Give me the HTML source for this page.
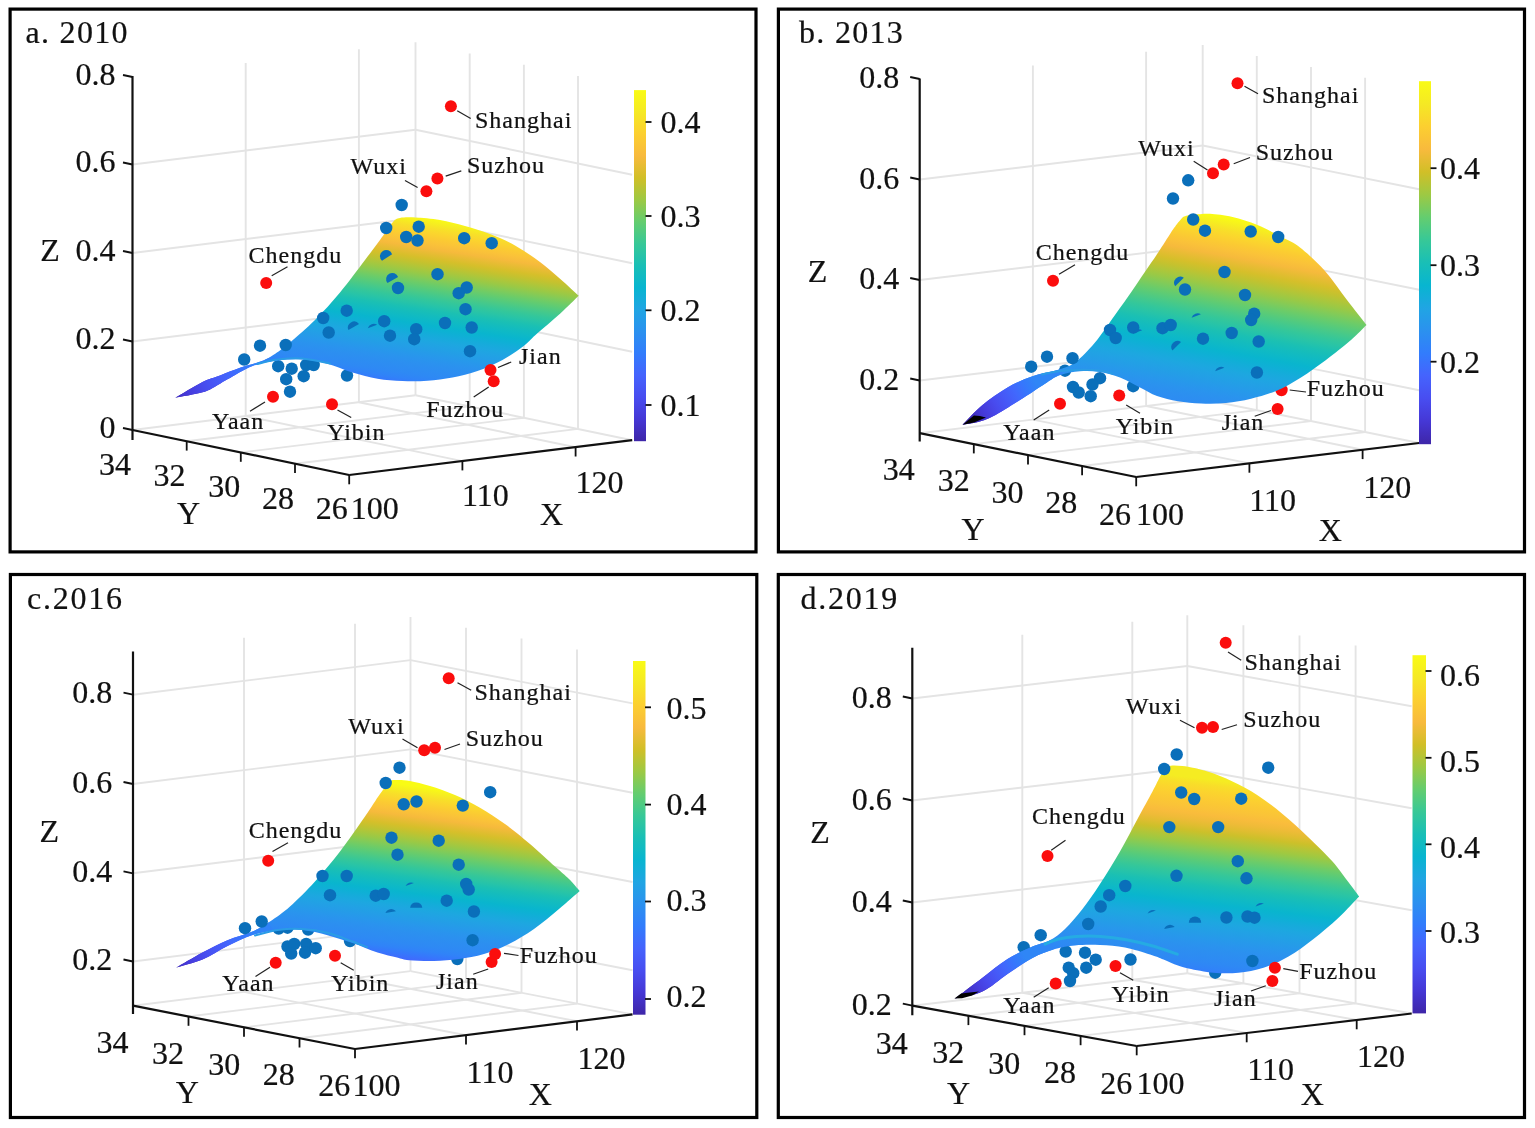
<!DOCTYPE html>
<html lang="en"><head><meta charset="utf-8"><title>Trend surface 2010-2019</title>
<style>
html,body{margin:0;padding:0;background:#fff}
svg{display:block}
text{font-family:"Liberation Serif",serif;fill:#111;stroke:#111;stroke-width:0.22px}
.t{font-size:32px}
.h{font-size:32px;letter-spacing:1.3px}
.c{font-size:24px;letter-spacing:1px}
.g{stroke:#e4e4e4;stroke-width:1.9}
.a{stroke:#111;stroke-width:2.2;stroke-linecap:butt}
.k{stroke:#111;stroke-width:1.8}
.l{stroke:#222;stroke-width:1.2}
.b{fill:#0a6fba}
.r{fill:#fb0d0d}
.f{fill:none;stroke:#000;stroke-width:3.2}
</style></head>
<body>
<svg width="1535" height="1128" viewBox="0 0 1535 1128">
<rect width="1535" height="1128" fill="#fff"/>
<g><line class="g" x1="132.5" y1="430" x2="415.5" y2="395.2"/><line class="g" x1="415.5" y1="395.2" x2="632.2" y2="440.2"/><line class="g" x1="186.7" y1="441.2" x2="469.7" y2="406.4"/><line class="g" x1="240.8" y1="452.5" x2="523.9" y2="417.7"/><line class="g" x1="295" y1="463.8" x2="578" y2="428.9"/><line class="g" x1="462.4" y1="461.1" x2="245.7" y2="416.1"/><line class="g" x1="575.6" y1="447.2" x2="358.9" y2="402.2"/><line class="g" x1="245.7" y1="416.1" x2="245.7" y2="63.1"/><line class="g" x1="358.9" y1="402.2" x2="358.9" y2="49.2"/><line class="g" x1="415.5" y1="395.2" x2="415.5" y2="42.2"/><line class="g" x1="469.7" y1="406.4" x2="469.7" y2="53.4"/><line class="g" x1="523.9" y1="417.7" x2="523.9" y2="64.7"/><line class="g" x1="578" y1="428.9" x2="578" y2="75.9"/><line class="g" x1="132.5" y1="164.5" x2="415.5" y2="129.7"/><line class="g" x1="415.5" y1="129.7" x2="632.2" y2="174.7"/><line class="g" x1="132.5" y1="253" x2="415.5" y2="218.2"/><line class="g" x1="415.5" y1="218.2" x2="632.2" y2="263.2"/><line class="g" x1="132.5" y1="341.5" x2="415.5" y2="306.7"/><line class="g" x1="415.5" y1="306.7" x2="632.2" y2="351.7"/>
<circle class="b" cx="278.2" cy="366.2" r="6.2"/>
<circle class="b" cx="306.2" cy="365" r="6.2"/>
<circle class="b" cx="313.7" cy="365" r="6.2"/>
<circle class="b" cx="347" cy="375.5" r="6.2"/>
<linearGradient id="sg0" gradientUnits="userSpaceOnUse" x1="399.9" y1="418.4" x2="430" y2="218"><stop offset="0.000" stop-color="#3e26a8"/><stop offset="0.025" stop-color="#422fc1"/><stop offset="0.050" stop-color="#4539d8"/><stop offset="0.075" stop-color="#4745e6"/><stop offset="0.100" stop-color="#4751f2"/><stop offset="0.125" stop-color="#465df9"/><stop offset="0.150" stop-color="#406afd"/><stop offset="0.175" stop-color="#3677fc"/><stop offset="0.200" stop-color="#3083f8"/><stop offset="0.225" stop-color="#2e89f4"/><stop offset="0.250" stop-color="#2d8cf2"/><stop offset="0.275" stop-color="#2c8ff0"/><stop offset="0.300" stop-color="#2a93ee"/><stop offset="0.325" stop-color="#2798eb"/><stop offset="0.350" stop-color="#249de7"/><stop offset="0.375" stop-color="#21a2e4"/><stop offset="0.400" stop-color="#1da7e0"/><stop offset="0.425" stop-color="#16abdb"/><stop offset="0.450" stop-color="#0eb0d5"/><stop offset="0.475" stop-color="#09b5ce"/><stop offset="0.500" stop-color="#0eb9c6"/><stop offset="0.525" stop-color="#14bcbd"/><stop offset="0.550" stop-color="#1bc0b3"/><stop offset="0.575" stop-color="#28c4a7"/><stop offset="0.600" stop-color="#34c79a"/><stop offset="0.625" stop-color="#45c98b"/><stop offset="0.650" stop-color="#57cb7a"/><stop offset="0.675" stop-color="#6bcc69"/><stop offset="0.700" stop-color="#82cb58"/><stop offset="0.725" stop-color="#99c946"/><stop offset="0.750" stop-color="#aec63a"/><stop offset="0.775" stop-color="#c3c22f"/><stop offset="0.800" stop-color="#d6bf2a"/><stop offset="0.825" stop-color="#e6bc33"/><stop offset="0.850" stop-color="#f6ba3c"/><stop offset="0.875" stop-color="#fac239"/><stop offset="0.900" stop-color="#fbca33"/><stop offset="0.925" stop-color="#fbd42e"/><stop offset="0.950" stop-color="#f8df29"/><stop offset="0.975" stop-color="#f6ee20"/><stop offset="1.000" stop-color="#f9fb15"/></linearGradient>
<path d="M175.3 397.8C179.8 395.2 195.1 385.7 202.5 382C209.9 378.3 213.8 377.9 220 375.5C226.2 373.1 233 370.2 240 367.8C247 365.4 256.1 363.4 262 361C267.9 358.6 270.6 356.8 275.3 353.7C280 350.6 283.4 348.1 290 342.5C296.6 336.9 306.7 328.3 315 320C323.3 311.7 331.7 302.5 340 292.5C348.3 282.5 358.3 268.8 365 260C371.7 251.2 375.4 246.2 380 240C384.6 233.8 389.2 226.2 392.5 222.5C395.8 218.8 396.2 218.8 400 218C403.8 217.2 408.3 217.2 415 217.5C421.7 217.8 431.7 218.6 440 220C448.3 221.4 456.7 223.7 465 226C473.3 228.3 481.7 230.8 490 234C498.3 237.2 506.7 240.8 515 245.5C523.3 250.2 532.5 256.4 540 262C547.5 267.6 553.8 273.4 560.3 279C566.8 284.6 575.6 293 578.7 295.8C575.6 298.8 567.5 307 560.3 313.5C553.1 320 541.6 329.6 535.5 335C529.4 340.4 529.2 341.8 523.7 346C518.2 350.2 510.2 355.8 502.5 360C494.8 364.2 485.8 368.1 477.5 371C469.2 373.9 460.8 375.9 452.5 377.5C444.2 379.1 435.8 380.1 427.5 380.7C419.2 381.3 410.8 381.3 402.5 381C394.2 380.7 385.8 380.1 377.5 378.7C369.2 377.3 360.8 375 352.5 372.5C344.2 370 335.8 365.9 327.5 363.7C319.2 361.5 310.8 360 302.5 359.5C294.2 359 285.8 359.4 277.5 360.5C269.2 361.6 260.8 362.9 252.5 366C244.2 369.1 233.8 375.9 227.5 379.3C221.2 382.8 219.2 384.5 215 386.7C210.8 388.9 209.1 390.4 202.5 392.3C195.9 394.2 179.8 396.9 175.3 397.8Z" fill="url(#sg0)"/>
<linearGradient id="lg0" gradientUnits="userSpaceOnUse" x1="176" y1="398" x2="255" y2="364"><stop offset="0.000" stop-color="#4231c5"/><stop offset="0.143" stop-color="#453ada"/><stop offset="0.286" stop-color="#4746e8"/><stop offset="0.429" stop-color="#4752f3"/><stop offset="0.571" stop-color="#465df9"/><stop offset="0.714" stop-color="#406afd"/><stop offset="0.857" stop-color="#3677fc"/><stop offset="1.000" stop-color="#3083f8"/></linearGradient>
<clipPath id="lc0"><path d="M160 340L262 340L276 372L160 410Z"/></clipPath>
<path d="M175.3 397.8C179.8 395.2 195.1 385.7 202.5 382C209.9 378.3 213.8 377.9 220 375.5C226.2 373.1 233 370.2 240 367.8C247 365.4 256.1 363.4 262 361C267.9 358.6 270.6 356.8 275.3 353.7C280 350.6 283.4 348.1 290 342.5C296.6 336.9 306.7 328.3 315 320C323.3 311.7 331.7 302.5 340 292.5C348.3 282.5 358.3 268.8 365 260C371.7 251.2 375.4 246.2 380 240C384.6 233.8 389.2 226.2 392.5 222.5C395.8 218.8 396.2 218.8 400 218C403.8 217.2 408.3 217.2 415 217.5C421.7 217.8 431.7 218.6 440 220C448.3 221.4 456.7 223.7 465 226C473.3 228.3 481.7 230.8 490 234C498.3 237.2 506.7 240.8 515 245.5C523.3 250.2 532.5 256.4 540 262C547.5 267.6 553.8 273.4 560.3 279C566.8 284.6 575.6 293 578.7 295.8C575.6 298.8 567.5 307 560.3 313.5C553.1 320 541.6 329.6 535.5 335C529.4 340.4 529.2 341.8 523.7 346C518.2 350.2 510.2 355.8 502.5 360C494.8 364.2 485.8 368.1 477.5 371C469.2 373.9 460.8 375.9 452.5 377.5C444.2 379.1 435.8 380.1 427.5 380.7C419.2 381.3 410.8 381.3 402.5 381C394.2 380.7 385.8 380.1 377.5 378.7C369.2 377.3 360.8 375 352.5 372.5C344.2 370 335.8 365.9 327.5 363.7C319.2 361.5 310.8 360 302.5 359.5C294.2 359 285.8 359.4 277.5 360.5C269.2 361.6 260.8 362.9 252.5 366C244.2 369.1 233.8 375.9 227.5 379.3C221.2 382.8 219.2 384.5 215 386.7C210.8 388.9 209.1 390.4 202.5 392.3C195.9 394.2 179.8 396.9 175.3 397.8Z" fill="url(#lg0)" clip-path="url(#lc0)"/>
<path d="M257.5 364C260.8 363.2 270 360.4 277.5 359.5C285 358.6 293.8 357.8 302.5 358.5C311.2 359.2 325.4 362.7 330 363.5" fill="none" stroke="#2a9ce6" stroke-width="2" stroke-linecap="round" opacity="1"/>
<line class="a" x1="132.5" y1="76" x2="132.5" y2="440"/><line class="a" x1="132.5" y1="430" x2="349.2" y2="475"/><line class="a" x1="349.2" y1="475" x2="632.2" y2="440.2"/><line class="k" x1="123" y1="75" x2="132.5" y2="77"/><line class="k" x1="123" y1="162.5" x2="132.5" y2="164.5"/><line class="k" x1="123" y1="251" x2="132.5" y2="253"/><line class="k" x1="123" y1="339.5" x2="132.5" y2="341.5"/><line class="k" x1="123" y1="428" x2="132.5" y2="430"/><line class="k" x1="186.7" y1="441.2" x2="186.7" y2="450.6"/><line class="k" x1="240.8" y1="452.5" x2="240.8" y2="461.8"/><line class="k" x1="295" y1="463.8" x2="295" y2="473.1"/><line class="k" x1="349.2" y1="475" x2="349.2" y2="484.3"/><line class="k" x1="462.4" y1="461.1" x2="462.4" y2="470.4"/><line class="k" x1="575.6" y1="447.2" x2="575.6" y2="456.5"/>
<text class="t" text-anchor="end" x="115.5" y="84.8">0.8</text><text class="t" text-anchor="end" x="115.5" y="172.3">0.6</text><text class="t" text-anchor="end" x="115.5" y="260.8">0.4</text><text class="t" text-anchor="end" x="115.5" y="349.3">0.2</text><text class="t" text-anchor="end" x="115.5" y="437.8">0</text><text class="t" x="99" y="475">34</text><text class="t" x="153.5" y="486.2">32</text><text class="t" x="208.2" y="497">30</text><text class="t" x="262" y="508.7">28</text><text class="t" x="315.7" y="518.7">26</text><text class="t" x="350.8" y="518.7">100</text><text class="t" x="462" y="506.2">110</text><text class="t" x="575.5" y="492.5">120</text><text class="t" x="177" y="523.7">Y</text><text class="t" x="540" y="524.5">X</text><text class="t" x="40.2" y="261">Z</text>
<linearGradient id="cg0" x1="0" y1="1" x2="0" y2="0"><stop offset="0.0000" stop-color="#3e26a8"/><stop offset="0.0625" stop-color="#4537d5"/><stop offset="0.1250" stop-color="#484df0"/><stop offset="0.1875" stop-color="#4563fd"/><stop offset="0.2500" stop-color="#327cfc"/><stop offset="0.3125" stop-color="#2b91ef"/><stop offset="0.3750" stop-color="#20a5e3"/><stop offset="0.4375" stop-color="#08b5d0"/><stop offset="0.5000" stop-color="#19bfb6"/><stop offset="0.5625" stop-color="#37c897"/><stop offset="0.6250" stop-color="#64cd6f"/><stop offset="0.6875" stop-color="#9dc943"/><stop offset="0.7500" stop-color="#d1bf27"/><stop offset="0.8125" stop-color="#f8ba3d"/><stop offset="0.8750" stop-color="#fccf30"/><stop offset="0.9375" stop-color="#f5e924"/><stop offset="1.0000" stop-color="#f9fb15"/></linearGradient>
<rect x="634" y="90.1" width="12" height="351.1" fill="url(#cg0)"/>
<line class="k" x1="645.5" y1="122" x2="651.5" y2="122"/>
<text class="t" x="660.5" y="133">0.4</text>
<line class="k" x1="645.5" y1="216" x2="651.5" y2="216"/>
<text class="t" x="660.5" y="227">0.3</text>
<line class="k" x1="645.5" y1="310.3" x2="651.5" y2="310.3"/>
<text class="t" x="660.5" y="321.3">0.2</text>
<line class="k" x1="645.5" y1="405" x2="651.5" y2="405"/>
<text class="t" x="660.5" y="416">0.1</text>
<circle class="b" cx="401.7" cy="205" r="6.2"/>
<circle class="b" cx="386.2" cy="228" r="6.2"/>
<circle class="b" cx="418.7" cy="226.7" r="6.2"/>
<circle class="b" cx="406.2" cy="237" r="6.2"/>
<circle class="b" cx="417.5" cy="240.5" r="6.2"/>
<circle class="b" cx="464.2" cy="238.2" r="6.2"/>
<circle class="b" cx="491.7" cy="243.2" r="6.2"/>
<circle class="b" cx="437.5" cy="274.2" r="6.2"/>
<circle class="b" cx="398" cy="288" r="6.2"/>
<circle class="b" cx="466.7" cy="287.5" r="6.2"/>
<circle class="b" cx="458.7" cy="293.2" r="6.2"/>
<circle class="b" cx="465.5" cy="309.2" r="6.2"/>
<circle class="b" cx="346.7" cy="310.7" r="6.2"/>
<circle class="b" cx="323.2" cy="318" r="6.2"/>
<circle class="b" cx="384.2" cy="321.2" r="6.2"/>
<circle class="b" cx="445" cy="323" r="6.2"/>
<circle class="b" cx="471.7" cy="327.5" r="6.2"/>
<circle class="b" cx="328.7" cy="332.5" r="6.2"/>
<circle class="b" cx="416.2" cy="329.2" r="6.2"/>
<circle class="b" cx="390" cy="335.7" r="6.2"/>
<circle class="b" cx="414.2" cy="339.2" r="6.2"/>
<circle class="b" cx="470" cy="351.2" r="6.2"/>
<circle class="b" cx="260" cy="345.7" r="6.2"/>
<circle class="b" cx="285.7" cy="345" r="6.2"/>
<circle class="b" cx="244.2" cy="359.5" r="6.2"/>
<circle class="b" cx="291.7" cy="368.7" r="6.2"/>
<circle class="b" cx="303.7" cy="376.2" r="6.2"/>
<circle class="b" cx="286.2" cy="379.2" r="6.2"/>
<circle class="b" cx="290" cy="391.7" r="6.2"/>
<path class="b" d="M392.1 254.3A6.2 6.2 0 1 0 382 260.7Z"/>
<path class="b" d="M398.1 277A6.2 6.2 0 1 0 387.5 283.1Z"/>
<path class="b" d="M359 323.9A6.2 6.2 0 0 0 348.4 330.1Z"/>
<path class="b" d="M377.1 324.8A6.2 6.2 0 0 0 367.8 328.2Z"/>
<circle class="r" cx="266.2" cy="283" r="6"/>
<circle class="r" cx="273" cy="396.7" r="6"/>
<circle class="r" cx="332" cy="404.2" r="6"/>
<circle class="r" cx="490.5" cy="370" r="6"/>
<circle class="r" cx="493.7" cy="381.2" r="6"/>
<circle class="r" cx="426.4" cy="191.3" r="6"/>
<circle class="r" cx="437.4" cy="178.6" r="6"/>
<circle class="r" cx="450.9" cy="106.3" r="6"/>
<line class="l" x1="271.7" y1="275.7" x2="287.5" y2="266.7"/>
<line class="l" x1="250" y1="411.2" x2="265" y2="402"/>
<line class="l" x1="337.5" y1="410" x2="351.2" y2="417.5"/>
<line class="l" x1="473.7" y1="397" x2="488.7" y2="387"/>
<line class="l" x1="498" y1="367.5" x2="511.2" y2="362"/>
<line class="l" x1="457.2" y1="110.7" x2="470.7" y2="118.4"/>
<line class="l" x1="445.7" y1="176.1" x2="461.3" y2="170.9"/>
<line class="l" x1="405" y1="180.5" x2="417.6" y2="187.6"/>
<text class="c" x="248.5" y="262.5">Chengdu</text>
<text class="c" x="212" y="428.7">Yaan</text>
<text class="c" x="327.2" y="440">Yibin</text>
<text class="c" x="426.2" y="416.5">Fuzhou</text>
<text class="c" x="519" y="364.2">Jian</text>
<text class="c" x="475" y="127.5">Shanghai</text>
<text class="c" x="467" y="173">Suzhou</text>
<text class="c" x="350.5" y="174.2">Wuxi</text>
<text class="h" x="25.5" y="43" style="letter-spacing:1.3px">a. 2010</text>
<rect class="f" x="10.1" y="9.1" width="745.9" height="542.8"/></g>
<g><line class="g" x1="919.7" y1="433.2" x2="1202.7" y2="399.2"/><line class="g" x1="1202.7" y1="399.2" x2="1419.2" y2="443"/><line class="g" x1="973.8" y1="444.1" x2="1256.8" y2="410.1"/><line class="g" x1="1028" y1="455.1" x2="1311" y2="421.1"/><line class="g" x1="1082.1" y1="466" x2="1365.1" y2="432"/><line class="g" x1="1249.4" y1="463.4" x2="1032.9" y2="419.6"/><line class="g" x1="1362.6" y1="449.8" x2="1146.1" y2="406"/><line class="g" x1="1032.9" y1="419.6" x2="1032.9" y2="65.4"/><line class="g" x1="1146.1" y1="406" x2="1146.1" y2="51.8"/><line class="g" x1="1202.7" y1="399.2" x2="1202.7" y2="45"/><line class="g" x1="1256.8" y1="410.1" x2="1256.8" y2="55.9"/><line class="g" x1="1311" y1="421.1" x2="1311" y2="66.9"/><line class="g" x1="1365.1" y1="432" x2="1365.1" y2="77.8"/><line class="g" x1="919.7" y1="179.5" x2="1202.7" y2="145.5"/><line class="g" x1="1202.7" y1="145.5" x2="1419.2" y2="189.3"/><line class="g" x1="919.7" y1="280" x2="1202.7" y2="246"/><line class="g" x1="1202.7" y1="246" x2="1419.2" y2="289.8"/><line class="g" x1="919.7" y1="380.5" x2="1202.7" y2="346.5"/><line class="g" x1="1202.7" y1="346.5" x2="1419.2" y2="390.3"/>
<circle class="b" cx="1065" cy="370.7" r="6.2"/>
<circle class="b" cx="1100" cy="378.2" r="6.2"/>
<circle class="b" cx="1133.2" cy="386.2" r="6.2"/>
<circle class="r" cx="1281.5" cy="390" r="6.2"/>
<linearGradient id="sg1" gradientUnits="userSpaceOnUse" x1="962.5" y1="424.5" x2="1007.8" y2="177.5"><stop offset="0.000" stop-color="#3e26a8"/><stop offset="0.025" stop-color="#422fc1"/><stop offset="0.050" stop-color="#4539d8"/><stop offset="0.075" stop-color="#4745e6"/><stop offset="0.100" stop-color="#4751f2"/><stop offset="0.125" stop-color="#465df9"/><stop offset="0.150" stop-color="#406afd"/><stop offset="0.175" stop-color="#3677fc"/><stop offset="0.200" stop-color="#3083f8"/><stop offset="0.225" stop-color="#2e89f4"/><stop offset="0.250" stop-color="#2d8cf2"/><stop offset="0.275" stop-color="#2c8ff0"/><stop offset="0.300" stop-color="#2a93ee"/><stop offset="0.325" stop-color="#2798eb"/><stop offset="0.350" stop-color="#249de7"/><stop offset="0.375" stop-color="#21a2e4"/><stop offset="0.400" stop-color="#1da7e0"/><stop offset="0.425" stop-color="#16abdb"/><stop offset="0.450" stop-color="#0eb0d5"/><stop offset="0.475" stop-color="#09b5ce"/><stop offset="0.500" stop-color="#0eb9c6"/><stop offset="0.525" stop-color="#14bcbd"/><stop offset="0.550" stop-color="#1bc0b3"/><stop offset="0.575" stop-color="#28c4a7"/><stop offset="0.600" stop-color="#34c79a"/><stop offset="0.625" stop-color="#45c98b"/><stop offset="0.650" stop-color="#57cb7a"/><stop offset="0.675" stop-color="#6bcc69"/><stop offset="0.700" stop-color="#82cb58"/><stop offset="0.725" stop-color="#99c946"/><stop offset="0.750" stop-color="#aec63a"/><stop offset="0.775" stop-color="#c3c22f"/><stop offset="0.800" stop-color="#d6bf2a"/><stop offset="0.825" stop-color="#e6bc33"/><stop offset="0.850" stop-color="#f6ba3c"/><stop offset="0.875" stop-color="#fac239"/><stop offset="0.900" stop-color="#fbca33"/><stop offset="0.925" stop-color="#fbd42e"/><stop offset="0.950" stop-color="#f8df29"/><stop offset="0.975" stop-color="#f6ee20"/><stop offset="1.000" stop-color="#f9fb15"/></linearGradient>
<path d="M962.5 424.8C965.8 421.5 975 411.2 982.5 405C990 398.8 999.2 392.3 1007.5 387.5C1015.8 382.7 1024.2 379.1 1032.5 376.2C1040.8 373.3 1050.4 372.3 1057.5 370C1064.6 367.7 1068.8 367.1 1075 362.5C1081.2 357.9 1088.3 350.4 1095 342.5C1101.7 334.6 1108.8 323.6 1115 315C1121.2 306.4 1127.1 298.1 1132 291C1136.9 283.9 1140.1 278.9 1144.5 272.5C1148.9 266.1 1153.9 259 1158.3 252.3C1162.7 245.6 1167.9 237.1 1171 232.4C1174.1 227.7 1175.4 226.2 1177 224C1178.6 221.8 1179.6 220.6 1180.8 219.4C1182 218.2 1182.6 217.3 1184 216.6C1185.4 215.9 1186.7 215.6 1189 215.2C1191.3 214.8 1194.5 214.5 1198 214.3C1201.5 214.1 1204.2 213.4 1210 213.8C1215.8 214.2 1224.6 215.1 1232.5 217C1240.4 218.9 1249.2 221.6 1257.5 225C1265.8 228.4 1275.4 233.8 1282.5 237.5C1289.6 241.2 1292.9 241.9 1300 247.5C1307.1 253.1 1317.2 262.2 1325 271C1332.8 279.8 1340.1 291 1347 300C1353.9 309 1363.2 320.8 1366.5 325C1363.9 327.5 1357.8 334.2 1351 340C1344.2 345.8 1334.3 353.8 1326 360C1317.7 366.2 1309.3 372.3 1301 377.5C1292.7 382.7 1284.3 387.5 1276 391C1267.7 394.5 1259.3 396.7 1251 398.7C1242.7 400.7 1234.3 402.2 1226 403C1217.7 403.8 1209 403.8 1201 403.5C1193 403.2 1185.3 402.4 1178 401.2C1170.7 399.9 1163.3 398.3 1157 396C1150.7 393.7 1146.2 390.6 1140 387.5C1133.8 384.4 1126.7 380.1 1120 377.5C1113.3 374.9 1106.7 373.1 1100 372C1093.3 370.9 1086.7 370.7 1080 371.2C1073.3 371.7 1065.8 372.9 1060 375C1054.2 377.1 1051.7 379.5 1045 383.7C1038.3 387.9 1028.7 394.6 1020 400C1011.3 405.4 1000 412.6 993 416.3C986 420 983.1 420.6 978 422C972.9 423.4 965.1 424.3 962.5 424.8Z" fill="url(#sg1)"/>
<linearGradient id="lg1" gradientUnits="userSpaceOnUse" x1="966" y1="423" x2="1036" y2="382"><stop offset="0.000" stop-color="#3e26a8"/><stop offset="0.143" stop-color="#4231c5"/><stop offset="0.286" stop-color="#463ddd"/><stop offset="0.429" stop-color="#484bee"/><stop offset="0.571" stop-color="#4659f7"/><stop offset="0.714" stop-color="#4168fd"/><stop offset="0.857" stop-color="#3578fc"/><stop offset="1.000" stop-color="#2f86f6"/></linearGradient>
<clipPath id="lc1"><path d="M950 350L1052 350L1068 385L950 440Z"/></clipPath>
<path d="M962.5 424.8C965.8 421.5 975 411.2 982.5 405C990 398.8 999.2 392.3 1007.5 387.5C1015.8 382.7 1024.2 379.1 1032.5 376.2C1040.8 373.3 1050.4 372.3 1057.5 370C1064.6 367.7 1068.8 367.1 1075 362.5C1081.2 357.9 1088.3 350.4 1095 342.5C1101.7 334.6 1108.8 323.6 1115 315C1121.2 306.4 1127.1 298.1 1132 291C1136.9 283.9 1140.1 278.9 1144.5 272.5C1148.9 266.1 1153.9 259 1158.3 252.3C1162.7 245.6 1167.9 237.1 1171 232.4C1174.1 227.7 1175.4 226.2 1177 224C1178.6 221.8 1179.6 220.6 1180.8 219.4C1182 218.2 1182.6 217.3 1184 216.6C1185.4 215.9 1186.7 215.6 1189 215.2C1191.3 214.8 1194.5 214.5 1198 214.3C1201.5 214.1 1204.2 213.4 1210 213.8C1215.8 214.2 1224.6 215.1 1232.5 217C1240.4 218.9 1249.2 221.6 1257.5 225C1265.8 228.4 1275.4 233.8 1282.5 237.5C1289.6 241.2 1292.9 241.9 1300 247.5C1307.1 253.1 1317.2 262.2 1325 271C1332.8 279.8 1340.1 291 1347 300C1353.9 309 1363.2 320.8 1366.5 325C1363.9 327.5 1357.8 334.2 1351 340C1344.2 345.8 1334.3 353.8 1326 360C1317.7 366.2 1309.3 372.3 1301 377.5C1292.7 382.7 1284.3 387.5 1276 391C1267.7 394.5 1259.3 396.7 1251 398.7C1242.7 400.7 1234.3 402.2 1226 403C1217.7 403.8 1209 403.8 1201 403.5C1193 403.2 1185.3 402.4 1178 401.2C1170.7 399.9 1163.3 398.3 1157 396C1150.7 393.7 1146.2 390.6 1140 387.5C1133.8 384.4 1126.7 380.1 1120 377.5C1113.3 374.9 1106.7 373.1 1100 372C1093.3 370.9 1086.7 370.7 1080 371.2C1073.3 371.7 1065.8 372.9 1060 375C1054.2 377.1 1051.7 379.5 1045 383.7C1038.3 387.9 1028.7 394.6 1020 400C1011.3 405.4 1000 412.6 993 416.3C986 420 983.1 420.6 978 422C972.9 423.4 965.1 424.3 962.5 424.8Z" fill="url(#lg1)" clip-path="url(#lc1)"/>
<path d="M1042 374.5C1045 373.9 1053.7 371.8 1060 371C1066.3 370.2 1073.3 369.8 1080 369.7C1086.7 369.6 1094.7 369.9 1100 370.5C1105.3 371.1 1110 373 1112 373.5" fill="none" stroke="#2a9ce6" stroke-width="2" stroke-linecap="round" opacity="1"/>
<path d="M962.7 424.8L973.9 415.6L979.8 416.1L986 417.6L974 422.4Z" fill="#000"/>
<line class="a" x1="919.7" y1="78.5" x2="919.7" y2="441.5"/><line class="a" x1="919.7" y1="433.2" x2="1136.2" y2="477"/><line class="a" x1="1136.2" y1="477" x2="1419.2" y2="443"/><line class="k" x1="910.2" y1="77" x2="919.7" y2="79"/><line class="k" x1="910.2" y1="177.5" x2="919.7" y2="179.5"/><line class="k" x1="910.2" y1="278" x2="919.7" y2="280"/><line class="k" x1="910.2" y1="378.5" x2="919.7" y2="380.5"/><line class="k" x1="973.8" y1="444.1" x2="973.8" y2="453.4"/><line class="k" x1="1028" y1="455.1" x2="1028" y2="464.4"/><line class="k" x1="1082.1" y1="466" x2="1082.1" y2="475.3"/><line class="k" x1="1136.2" y1="477" x2="1136.2" y2="486.3"/><line class="k" x1="1249.4" y1="463.4" x2="1249.4" y2="472.7"/><line class="k" x1="1362.6" y1="449.8" x2="1362.6" y2="459.1"/>
<text class="t" text-anchor="end" x="899.2" y="88.3">0.8</text><text class="t" text-anchor="end" x="899.2" y="188.8">0.6</text><text class="t" text-anchor="end" x="899.2" y="289.3">0.4</text><text class="t" text-anchor="end" x="899.2" y="389.8">0.2</text><text class="t" x="882.7" y="480">34</text><text class="t" x="937.7" y="490.7">32</text><text class="t" x="991.5" y="502.5">30</text><text class="t" x="1045.2" y="513.2">28</text><text class="t" x="1099" y="525">26</text><text class="t" x="1136" y="525">100</text><text class="t" x="1249.3" y="511.2">110</text><text class="t" x="1363.2" y="497.5">120</text><text class="t" x="961.5" y="540">Y</text><text class="t" x="1318.8" y="540.5">X</text><text class="t" x="807.8" y="282">Z</text>
<linearGradient id="cg1" x1="0" y1="1" x2="0" y2="0"><stop offset="0.0000" stop-color="#3e26a8"/><stop offset="0.0625" stop-color="#4537d5"/><stop offset="0.1250" stop-color="#484df0"/><stop offset="0.1875" stop-color="#4563fd"/><stop offset="0.2500" stop-color="#327cfc"/><stop offset="0.3125" stop-color="#2b91ef"/><stop offset="0.3750" stop-color="#20a5e3"/><stop offset="0.4375" stop-color="#08b5d0"/><stop offset="0.5000" stop-color="#19bfb6"/><stop offset="0.5625" stop-color="#37c897"/><stop offset="0.6250" stop-color="#64cd6f"/><stop offset="0.6875" stop-color="#9dc943"/><stop offset="0.7500" stop-color="#d1bf27"/><stop offset="0.8125" stop-color="#f8ba3d"/><stop offset="0.8750" stop-color="#fccf30"/><stop offset="0.9375" stop-color="#f5e924"/><stop offset="1.0000" stop-color="#f9fb15"/></linearGradient>
<rect x="1419" y="81.2" width="12" height="363" fill="url(#cg1)"/>
<line class="k" x1="1430.5" y1="168.2" x2="1436.5" y2="168.2"/>
<text class="t" x="1440" y="179.2">0.4</text>
<line class="k" x1="1430.5" y1="265.2" x2="1436.5" y2="265.2"/>
<text class="t" x="1440" y="276.2">0.3</text>
<line class="k" x1="1430.5" y1="361.7" x2="1436.5" y2="361.7"/>
<text class="t" x="1440" y="372.7">0.2</text>
<circle class="b" cx="1188.2" cy="180.3" r="6.2"/>
<circle class="b" cx="1173" cy="198.5" r="6.2"/>
<circle class="b" cx="1193.2" cy="219.5" r="6.2"/>
<circle class="b" cx="1205" cy="230.7" r="6.2"/>
<circle class="b" cx="1250.7" cy="231.5" r="6.2"/>
<circle class="b" cx="1278.2" cy="237" r="6.2"/>
<circle class="b" cx="1224.5" cy="272" r="6.2"/>
<circle class="b" cx="1185" cy="289.5" r="6.2"/>
<circle class="b" cx="1245" cy="295" r="6.2"/>
<circle class="b" cx="1254.2" cy="313.7" r="6.2"/>
<circle class="b" cx="1251.2" cy="320" r="6.2"/>
<circle class="b" cx="1110" cy="330" r="6.2"/>
<circle class="b" cx="1115.7" cy="338" r="6.2"/>
<circle class="b" cx="1133.2" cy="327.5" r="6.2"/>
<circle class="b" cx="1162.5" cy="328.2" r="6.2"/>
<circle class="b" cx="1170.7" cy="325" r="6.2"/>
<circle class="b" cx="1231.7" cy="333" r="6.2"/>
<circle class="b" cx="1203" cy="338.7" r="6.2"/>
<circle class="b" cx="1258.7" cy="341.5" r="6.2"/>
<circle class="b" cx="1256.9" cy="372.5" r="6.2"/>
<circle class="b" cx="1047" cy="356.7" r="6.2"/>
<circle class="b" cx="1031.2" cy="366.7" r="6.2"/>
<circle class="b" cx="1072.5" cy="358.2" r="6.2"/>
<circle class="b" cx="1092.5" cy="384.5" r="6.2"/>
<circle class="b" cx="1073" cy="387" r="6.2"/>
<circle class="b" cx="1078.7" cy="392.5" r="6.2"/>
<circle class="b" cx="1090.7" cy="396.2" r="6.2"/>
<path class="b" d="M1183.8 277.7A6.2 6.2 0 0 0 1175.2 286.3Z"/>
<path class="b" d="M1181 341.9A6.2 6.2 0 0 0 1172.4 350.5Z"/>
<path class="b" d="M1200.9 314.3A6.2 6.2 0 0 0 1191.6 317.7Z"/>
<path class="b" d="M1142.1 330.3A6.2 6.2 0 0 0 1132.8 333.7Z"/>
<path class="b" d="M1224.4 367.8A6.2 6.2 0 0 0 1215.1 371.2Z"/>
<circle class="r" cx="1053" cy="280.7" r="6"/>
<circle class="r" cx="1060" cy="403.7" r="6"/>
<circle class="r" cx="1119.2" cy="395.5" r="6"/>
<circle class="r" cx="1277.6" cy="409" r="6"/>
<circle class="r" cx="1237.5" cy="83.2" r="6"/>
<circle class="r" cx="1223.7" cy="164.5" r="6"/>
<circle class="r" cx="1213" cy="173.2" r="6"/>
<line class="l" x1="1059" y1="274.2" x2="1075" y2="264.8"/>
<line class="l" x1="1033.7" y1="420" x2="1049.2" y2="410"/>
<line class="l" x1="1126.2" y1="405" x2="1140" y2="413.2"/>
<line class="l" x1="1254.7" y1="416.2" x2="1271" y2="410.5"/>
<line class="l" x1="1289.7" y1="390" x2="1306" y2="392"/>
<line class="l" x1="1244.5" y1="86.2" x2="1258" y2="93.7"/>
<line class="l" x1="1233.7" y1="163.7" x2="1250" y2="157.5"/>
<line class="l" x1="1193.7" y1="161.2" x2="1207.5" y2="170"/>
<text class="c" x="1035.7" y="260.3">Chengdu</text>
<text class="c" x="1003.2" y="440">Yaan</text>
<text class="c" x="1115.7" y="433.7">Yibin</text>
<text class="c" x="1221.7" y="430">Jian</text>
<text class="c" x="1306.7" y="396.2">Fuzhou</text>
<text class="c" x="1262" y="102.5">Shanghai</text>
<text class="c" x="1255.7" y="160">Suzhou</text>
<text class="c" x="1138.2" y="155.5">Wuxi</text>
<text class="h" x="799" y="43" style="letter-spacing:1.3px">b. 2013</text>
<rect class="f" x="778.4" y="9.1" width="746.1" height="542.8"/></g>
<g><line class="g" x1="133" y1="1005.7" x2="410.5" y2="971.1"/><line class="g" x1="410.5" y1="971.1" x2="632.5" y2="1014.4"/><line class="g" x1="188.5" y1="1016.5" x2="466" y2="981.9"/><line class="g" x1="244" y1="1027.4" x2="521.5" y2="992.8"/><line class="g" x1="299.5" y1="1038.2" x2="577" y2="1003.6"/><line class="g" x1="466" y1="1035.2" x2="244" y2="991.9"/><line class="g" x1="577" y1="1021.3" x2="355" y2="978"/><line class="g" x1="244" y1="991.9" x2="244" y2="637.7"/><line class="g" x1="355" y1="978" x2="355" y2="623.8"/><line class="g" x1="410.5" y1="971.1" x2="410.5" y2="616.9"/><line class="g" x1="466" y1="981.9" x2="466" y2="627.7"/><line class="g" x1="521.5" y1="992.8" x2="521.5" y2="638.5"/><line class="g" x1="577" y1="1003.6" x2="577" y2="649.4"/><line class="g" x1="133" y1="694.7" x2="410.5" y2="660.1"/><line class="g" x1="410.5" y1="660.1" x2="632.5" y2="703.4"/><line class="g" x1="133" y1="784" x2="410.5" y2="749.4"/><line class="g" x1="410.5" y1="749.4" x2="632.5" y2="792.7"/><line class="g" x1="133" y1="873.3" x2="410.5" y2="838.7"/><line class="g" x1="410.5" y1="838.7" x2="632.5" y2="882"/><line class="g" x1="133" y1="961.5" x2="410.5" y2="926.9"/><line class="g" x1="410.5" y1="926.9" x2="632.5" y2="970.2"/>
<circle class="b" cx="278.7" cy="928.5" r="6.2"/>
<circle class="b" cx="287.5" cy="927.7" r="6.2"/>
<circle class="b" cx="308.2" cy="929.5" r="6.2"/>
<circle class="b" cx="350" cy="941" r="6.2"/>
<circle class="b" cx="457.3" cy="959" r="6.2"/>
<linearGradient id="sg2" gradientUnits="userSpaceOnUse" x1="410.6" y1="990.5" x2="436.8" y2="788.9"><stop offset="0.000" stop-color="#3e26a8"/><stop offset="0.025" stop-color="#422fc1"/><stop offset="0.050" stop-color="#4539d8"/><stop offset="0.075" stop-color="#4745e6"/><stop offset="0.100" stop-color="#4751f2"/><stop offset="0.125" stop-color="#465df9"/><stop offset="0.150" stop-color="#406afd"/><stop offset="0.175" stop-color="#3677fc"/><stop offset="0.200" stop-color="#3083f8"/><stop offset="0.225" stop-color="#2e89f4"/><stop offset="0.250" stop-color="#2d8cf2"/><stop offset="0.275" stop-color="#2c8ff0"/><stop offset="0.300" stop-color="#2a93ee"/><stop offset="0.325" stop-color="#2798eb"/><stop offset="0.350" stop-color="#249de7"/><stop offset="0.375" stop-color="#21a2e4"/><stop offset="0.400" stop-color="#1da7e0"/><stop offset="0.425" stop-color="#16abdb"/><stop offset="0.450" stop-color="#0eb0d5"/><stop offset="0.475" stop-color="#09b5ce"/><stop offset="0.500" stop-color="#0eb9c6"/><stop offset="0.525" stop-color="#14bcbd"/><stop offset="0.550" stop-color="#1bc0b3"/><stop offset="0.575" stop-color="#28c4a7"/><stop offset="0.600" stop-color="#34c79a"/><stop offset="0.625" stop-color="#45c98b"/><stop offset="0.650" stop-color="#57cb7a"/><stop offset="0.675" stop-color="#6bcc69"/><stop offset="0.700" stop-color="#82cb58"/><stop offset="0.725" stop-color="#99c946"/><stop offset="0.750" stop-color="#aec63a"/><stop offset="0.775" stop-color="#c3c22f"/><stop offset="0.800" stop-color="#d6bf2a"/><stop offset="0.825" stop-color="#e6bc33"/><stop offset="0.850" stop-color="#f6ba3c"/><stop offset="0.875" stop-color="#fac239"/><stop offset="0.900" stop-color="#fbca33"/><stop offset="0.925" stop-color="#fbd42e"/><stop offset="0.950" stop-color="#f8df29"/><stop offset="0.975" stop-color="#f6ee20"/><stop offset="1.000" stop-color="#f9fb15"/></linearGradient>
<path d="M176.2 967.6C180.6 965.1 193.9 957.1 202.5 952.5C211.1 947.9 219.2 943.7 227.5 940.2C235.8 936.7 245.4 934.6 252.5 931.5C259.6 928.4 263.8 925.7 270 921.5C276.2 917.3 282.5 913.2 290 906.5C297.5 899.8 306.7 890.7 315 881.5C323.3 872.3 331.7 862.3 340 851.5C348.3 840.7 358.3 826.1 365 816.5C371.7 806.9 375.8 799.8 380 794C384.2 788.2 387.2 783.8 390 781.5C392.8 779.2 393.7 780.1 397 780C400.3 779.9 404.5 780 410 781C415.5 782 422.5 783.7 430 786C437.5 788.3 446.7 791.4 455 795C463.3 798.6 471.7 802.9 480 807.7C488.3 812.5 496.7 818 505 824C513.3 830 521.7 836.9 530 844C538.3 851.1 548.5 860.7 555 866.5C561.5 872.3 564.9 874.9 569 879C573.1 883.1 577.9 889 579.7 891C576.2 894 566.6 902.7 559 909C551.4 915.3 542.3 923.2 534 929C525.7 934.8 517.3 939.8 509 944C500.7 948.2 492.3 951.5 484 954C475.7 956.5 467.3 957.8 459 959C450.7 960.2 442.3 960.8 434 961C425.7 961.2 415.2 960.8 409 960.2C402.8 959.6 402.2 958.8 397 957.5C391.8 956.2 384.9 954.9 377.5 952.5C370.1 950.1 360.8 945.9 352.5 943C344.2 940.1 335.8 937.4 327.5 935.2C319.2 933 310.8 930.9 302.5 930C294.2 929.1 285.8 929.2 277.5 930C269.2 930.8 260.8 932.3 252.5 935C244.2 937.7 235.8 941.9 227.5 946C219.2 950.1 211.1 955.9 202.5 959.5C193.9 963.1 180.6 966.2 176.2 967.6Z" fill="url(#sg2)"/>
<linearGradient id="lg2" gradientUnits="userSpaceOnUse" x1="176" y1="968" x2="255" y2="932"><stop offset="0.000" stop-color="#4231c5"/><stop offset="0.143" stop-color="#453ada"/><stop offset="0.286" stop-color="#4746e8"/><stop offset="0.429" stop-color="#4752f3"/><stop offset="0.571" stop-color="#465df9"/><stop offset="0.714" stop-color="#406afd"/><stop offset="0.857" stop-color="#3677fc"/><stop offset="1.000" stop-color="#3083f8"/></linearGradient>
<clipPath id="lc2"><path d="M160 900L262 900L276 942L160 980Z"/></clipPath>
<path d="M176.2 967.6C180.6 965.1 193.9 957.1 202.5 952.5C211.1 947.9 219.2 943.7 227.5 940.2C235.8 936.7 245.4 934.6 252.5 931.5C259.6 928.4 263.8 925.7 270 921.5C276.2 917.3 282.5 913.2 290 906.5C297.5 899.8 306.7 890.7 315 881.5C323.3 872.3 331.7 862.3 340 851.5C348.3 840.7 358.3 826.1 365 816.5C371.7 806.9 375.8 799.8 380 794C384.2 788.2 387.2 783.8 390 781.5C392.8 779.2 393.7 780.1 397 780C400.3 779.9 404.5 780 410 781C415.5 782 422.5 783.7 430 786C437.5 788.3 446.7 791.4 455 795C463.3 798.6 471.7 802.9 480 807.7C488.3 812.5 496.7 818 505 824C513.3 830 521.7 836.9 530 844C538.3 851.1 548.5 860.7 555 866.5C561.5 872.3 564.9 874.9 569 879C573.1 883.1 577.9 889 579.7 891C576.2 894 566.6 902.7 559 909C551.4 915.3 542.3 923.2 534 929C525.7 934.8 517.3 939.8 509 944C500.7 948.2 492.3 951.5 484 954C475.7 956.5 467.3 957.8 459 959C450.7 960.2 442.3 960.8 434 961C425.7 961.2 415.2 960.8 409 960.2C402.8 959.6 402.2 958.8 397 957.5C391.8 956.2 384.9 954.9 377.5 952.5C370.1 950.1 360.8 945.9 352.5 943C344.2 940.1 335.8 937.4 327.5 935.2C319.2 933 310.8 930.9 302.5 930C294.2 929.1 285.8 929.2 277.5 930C269.2 930.8 260.8 932.3 252.5 935C244.2 937.7 235.8 941.9 227.5 946C219.2 950.1 211.1 955.9 202.5 959.5C193.9 963.1 180.6 966.2 176.2 967.6Z" fill="url(#lg2)" clip-path="url(#lc2)"/>
<path d="M255 935.5C258.8 934.6 269.6 931.1 277.5 930C285.4 928.9 294.2 928.5 302.5 929C310.8 929.5 319.2 930.7 327.5 932.8C335.8 934.9 345.9 939.1 352.5 941.5C359.1 943.9 364.6 946.1 367 947" fill="none" stroke="#2a9ce6" stroke-width="2" stroke-linecap="round" opacity="1"/>
<line class="a" x1="133" y1="651.5" x2="133" y2="1014"/><line class="a" x1="133" y1="1005.7" x2="355" y2="1049"/><line class="a" x1="355" y1="1049" x2="632.5" y2="1014.4"/><line class="k" x1="123.5" y1="692.7" x2="133" y2="694.7"/><line class="k" x1="123.5" y1="782" x2="133" y2="784"/><line class="k" x1="123.5" y1="871.3" x2="133" y2="873.3"/><line class="k" x1="123.5" y1="959.5" x2="133" y2="961.5"/><line class="k" x1="188.5" y1="1016.5" x2="188.5" y2="1025.8"/><line class="k" x1="244" y1="1027.4" x2="244" y2="1036.7"/><line class="k" x1="299.5" y1="1038.2" x2="299.5" y2="1047.5"/><line class="k" x1="355" y1="1049" x2="355" y2="1058.3"/><line class="k" x1="466" y1="1035.2" x2="466" y2="1044.5"/><line class="k" x1="577" y1="1021.3" x2="577" y2="1030.6"/>
<text class="t" text-anchor="end" x="112.2" y="703.4">0.8</text><text class="t" text-anchor="end" x="112.2" y="792.7">0.6</text><text class="t" text-anchor="end" x="112.2" y="882">0.4</text><text class="t" text-anchor="end" x="112.2" y="970.2">0.2</text><text class="t" x="96.5" y="1052.7">34</text><text class="t" x="152" y="1063.5">32</text><text class="t" x="208.2" y="1074.7">30</text><text class="t" x="262.7" y="1085.2">28</text><text class="t" x="318.2" y="1096">26</text><text class="t" x="352.6" y="1096">100</text><text class="t" x="466.6" y="1082.7">110</text><text class="t" x="577.5" y="1068.5">120</text><text class="t" x="175.7" y="1102.7">Y</text><text class="t" x="528.8" y="1104.5">X</text><text class="t" x="39.5" y="841.5">Z</text>
<linearGradient id="cg2" x1="0" y1="1" x2="0" y2="0"><stop offset="0.0000" stop-color="#3e26a8"/><stop offset="0.0625" stop-color="#4537d5"/><stop offset="0.1250" stop-color="#484df0"/><stop offset="0.1875" stop-color="#4563fd"/><stop offset="0.2500" stop-color="#327cfc"/><stop offset="0.3125" stop-color="#2b91ef"/><stop offset="0.3750" stop-color="#20a5e3"/><stop offset="0.4375" stop-color="#08b5d0"/><stop offset="0.5000" stop-color="#19bfb6"/><stop offset="0.5625" stop-color="#37c897"/><stop offset="0.6250" stop-color="#64cd6f"/><stop offset="0.6875" stop-color="#9dc943"/><stop offset="0.7500" stop-color="#d1bf27"/><stop offset="0.8125" stop-color="#f8ba3d"/><stop offset="0.8750" stop-color="#fccf30"/><stop offset="0.9375" stop-color="#f5e924"/><stop offset="1.0000" stop-color="#f9fb15"/></linearGradient>
<rect x="633" y="661" width="12.5" height="353.7" fill="url(#cg2)"/>
<line class="k" x1="645" y1="707.3" x2="651" y2="707.3"/>
<text class="t" x="666.5" y="718.8">0.5</text>
<line class="k" x1="645" y1="804.6" x2="651" y2="804.6"/>
<text class="t" x="666.5" y="815.1">0.4</text>
<line class="k" x1="645" y1="901.5" x2="651" y2="901.5"/>
<text class="t" x="666.5" y="911.4">0.3</text>
<line class="k" x1="645" y1="999" x2="651" y2="999"/>
<text class="t" x="666.5" y="1006.9">0.2</text>
<circle class="b" cx="399.5" cy="767.7" r="6.2"/>
<circle class="b" cx="385.7" cy="783" r="6.2"/>
<circle class="b" cx="403.7" cy="804.3" r="6.2"/>
<circle class="b" cx="416.5" cy="801.5" r="6.2"/>
<circle class="b" cx="462.8" cy="805.6" r="6.2"/>
<circle class="b" cx="490.2" cy="792.2" r="6.2"/>
<circle class="b" cx="391.5" cy="837.7" r="6.2"/>
<circle class="b" cx="438.7" cy="840.7" r="6.2"/>
<circle class="b" cx="397.5" cy="854.7" r="6.2"/>
<circle class="b" cx="458.7" cy="864.7" r="6.2"/>
<circle class="b" cx="322.5" cy="876" r="6.2"/>
<circle class="b" cx="346.7" cy="876" r="6.2"/>
<circle class="b" cx="466.2" cy="884" r="6.2"/>
<circle class="b" cx="468.7" cy="889.5" r="6.2"/>
<circle class="b" cx="330" cy="895.2" r="6.2"/>
<circle class="b" cx="375.7" cy="895.7" r="6.2"/>
<circle class="b" cx="383.7" cy="894" r="6.2"/>
<circle class="b" cx="446.7" cy="900.7" r="6.2"/>
<circle class="b" cx="473.9" cy="911.5" r="6.2"/>
<circle class="b" cx="472.6" cy="940.2" r="6.2"/>
<circle class="b" cx="245" cy="928.2" r="6.2"/>
<circle class="b" cx="261.7" cy="921.5" r="6.2"/>
<circle class="b" cx="287.5" cy="946.5" r="6.2"/>
<circle class="b" cx="294.2" cy="944" r="6.2"/>
<circle class="b" cx="291.2" cy="953.5" r="6.2"/>
<circle class="b" cx="306.2" cy="944" r="6.2"/>
<circle class="b" cx="305" cy="952.7" r="6.2"/>
<circle class="b" cx="315.7" cy="948.2" r="6.2"/>
<path class="b" d="M422.3 907.7A6.2 6.2 0 0 0 410.1 907.7Z"/>
<path class="b" d="M395.9 911.2A6.2 6.2 0 0 0 385.4 913.1Z"/>
<path class="b" d="M413.9 883A6.2 6.2 0 0 0 405.6 886Z"/>
<circle class="r" cx="268.2" cy="860.7" r="6"/>
<circle class="r" cx="275.7" cy="962.7" r="6"/>
<circle class="r" cx="335" cy="955.7" r="6"/>
<circle class="r" cx="491.6" cy="962.1" r="6"/>
<circle class="r" cx="495.1" cy="954" r="6"/>
<circle class="r" cx="448.7" cy="678.2" r="6"/>
<circle class="r" cx="435" cy="747.7" r="6"/>
<circle class="r" cx="424.2" cy="750.2" r="6"/>
<line class="l" x1="272.5" y1="851.5" x2="288" y2="842.7"/>
<line class="l" x1="255.5" y1="976.5" x2="270" y2="967.2"/>
<line class="l" x1="340.7" y1="962.7" x2="353.7" y2="970.2"/>
<line class="l" x1="473.2" y1="974.3" x2="488.2" y2="969"/>
<line class="l" x1="504" y1="953.3" x2="518.5" y2="955.5"/>
<line class="l" x1="457.5" y1="682.7" x2="471.2" y2="690.2"/>
<line class="l" x1="444.5" y1="749.5" x2="460" y2="744"/>
<line class="l" x1="402.5" y1="739" x2="417.5" y2="747.7"/>
<text class="c" x="248.7" y="838.4">Chengdu</text>
<text class="c" x="222.3" y="991">Yaan</text>
<text class="c" x="331" y="991">Yibin</text>
<text class="c" x="436" y="989.3">Jian</text>
<text class="c" x="519.7" y="962.7">Fuzhou</text>
<text class="c" x="474.5" y="699.5">Shanghai</text>
<text class="c" x="465.7" y="746">Suzhou</text>
<text class="c" x="348.2" y="733.5">Wuxi</text>
<text class="h" x="27" y="609" style="letter-spacing:1.75px">c.2016</text>
<rect class="f" x="10.4" y="574.5" width="746.4" height="543"/></g>
<g><line class="g" x1="912.3" y1="1005.7" x2="1187.3" y2="973.2"/><line class="g" x1="1187.3" y1="973.2" x2="1411.7" y2="1013.5"/><line class="g" x1="968.4" y1="1015.8" x2="1243.4" y2="983.3"/><line class="g" x1="1024.5" y1="1025.9" x2="1299.5" y2="993.4"/><line class="g" x1="1080.6" y1="1035.9" x2="1355.6" y2="1003.4"/><line class="g" x1="1246.7" y1="1033" x2="1022.3" y2="992.7"/><line class="g" x1="1356.7" y1="1020" x2="1132.3" y2="979.7"/><line class="g" x1="1022.3" y1="992.7" x2="1022.3" y2="634.7"/><line class="g" x1="1132.3" y1="979.7" x2="1132.3" y2="621.7"/><line class="g" x1="1187.3" y1="973.2" x2="1187.3" y2="615.2"/><line class="g" x1="1243.4" y1="983.3" x2="1243.4" y2="625.3"/><line class="g" x1="1299.5" y1="993.4" x2="1299.5" y2="635.4"/><line class="g" x1="1355.6" y1="1003.4" x2="1355.6" y2="645.4"/><line class="g" x1="912.3" y1="698.5" x2="1187.3" y2="666"/><line class="g" x1="1187.3" y1="666" x2="1411.7" y2="706.3"/><line class="g" x1="912.3" y1="800.5" x2="1187.3" y2="768"/><line class="g" x1="1187.3" y1="768" x2="1411.7" y2="808.3"/><line class="g" x1="912.3" y1="902.5" x2="1187.3" y2="870"/><line class="g" x1="1187.3" y1="870" x2="1411.7" y2="910.3"/>
<circle class="b" cx="1023.7" cy="947.2" r="6.2"/>
<circle class="b" cx="1065.7" cy="951.5" r="6.2"/>
<circle class="b" cx="1215.2" cy="972.7" r="6.2"/>
<linearGradient id="sg3" gradientUnits="userSpaceOnUse" x1="1190.3" y1="1014" x2="1218.3" y2="780.6"><stop offset="0.000" stop-color="#3e26a8"/><stop offset="0.025" stop-color="#422fc1"/><stop offset="0.050" stop-color="#4539d8"/><stop offset="0.075" stop-color="#4745e6"/><stop offset="0.100" stop-color="#4751f2"/><stop offset="0.125" stop-color="#465df9"/><stop offset="0.150" stop-color="#406afd"/><stop offset="0.175" stop-color="#3677fc"/><stop offset="0.200" stop-color="#3083f8"/><stop offset="0.225" stop-color="#2e89f4"/><stop offset="0.250" stop-color="#2d8cf2"/><stop offset="0.275" stop-color="#2c8ff0"/><stop offset="0.300" stop-color="#2a93ee"/><stop offset="0.325" stop-color="#2798eb"/><stop offset="0.350" stop-color="#249de7"/><stop offset="0.375" stop-color="#21a2e4"/><stop offset="0.400" stop-color="#1da7e0"/><stop offset="0.425" stop-color="#16abdb"/><stop offset="0.450" stop-color="#0eb0d5"/><stop offset="0.475" stop-color="#09b5ce"/><stop offset="0.500" stop-color="#0eb9c6"/><stop offset="0.525" stop-color="#14bcbd"/><stop offset="0.550" stop-color="#1bc0b3"/><stop offset="0.575" stop-color="#28c4a7"/><stop offset="0.600" stop-color="#34c79a"/><stop offset="0.625" stop-color="#45c98b"/><stop offset="0.650" stop-color="#57cb7a"/><stop offset="0.675" stop-color="#6ccc69"/><stop offset="0.700" stop-color="#85cb56"/><stop offset="0.725" stop-color="#9ec942"/><stop offset="0.750" stop-color="#b4c537"/><stop offset="0.775" stop-color="#ccc02a"/><stop offset="0.800" stop-color="#e0bd30"/><stop offset="0.825" stop-color="#efbb38"/><stop offset="0.850" stop-color="#f9bc3c"/><stop offset="0.875" stop-color="#fac338"/><stop offset="0.900" stop-color="#fbc834"/><stop offset="0.925" stop-color="#fcce31"/><stop offset="0.950" stop-color="#fbd52d"/><stop offset="0.975" stop-color="#f8de29"/><stop offset="1.000" stop-color="#f5ec22"/></linearGradient>
<path d="M955 998.5C959.6 995 973.8 984.3 982.5 977.7C991.2 971.1 999.2 964.2 1007.5 959C1015.8 953.8 1025.4 949.6 1032.5 946.5C1039.6 943.4 1044.6 943.1 1050 940.2C1055.4 937.3 1059.6 934.2 1065 929C1070.4 923.8 1076.7 916.5 1082.5 909C1088.3 901.5 1093.8 893.6 1100 884C1106.2 874.4 1113.8 862.3 1120 851.5C1126.2 840.7 1132.1 829 1137.5 819C1142.9 809 1148.6 798.8 1152.5 791.5C1156.4 784.2 1158.5 779.2 1161 775C1163.5 770.8 1163.9 768 1167.5 766.5C1171.1 765 1175.8 765.2 1182.5 766C1189.2 766.8 1199.2 768.9 1207.5 771.5C1215.8 774.1 1224.2 777.5 1232.5 781.5C1240.8 785.5 1249.2 789.8 1257.5 795.2C1265.8 800.6 1274.2 807.1 1282.5 814C1290.8 820.9 1299.2 828.6 1307.5 836.5C1315.8 844.4 1326.1 854.4 1332.5 861.5C1338.9 868.6 1341.5 873.2 1346 879C1350.5 884.8 1357 893.6 1359.2 896.5C1355.8 900 1346.1 910.6 1338.5 917.7C1330.9 924.8 1321.8 932.5 1313.5 939C1305.2 945.5 1296.8 951.7 1288.5 956.5C1280.2 961.3 1271.8 965 1263.5 967.7C1255.2 970.4 1246.8 971.9 1238.5 972.7C1230.2 973.5 1221.8 973.4 1213.5 972.7C1205.2 972 1194.9 969.9 1188.5 968.5C1182.1 967.1 1179.2 966 1175 964.5C1170.8 963 1167.7 961.2 1163.5 959.5C1159.3 957.8 1156.4 956.5 1150 954.5C1143.6 952.5 1133.3 949.1 1125 947.5C1116.7 945.9 1108.3 945.4 1100 945C1091.7 944.6 1082.5 944.7 1075 945.4C1067.5 946.1 1062.1 946.9 1055 949C1047.9 951.1 1040.4 953.8 1032.5 958C1024.6 962.2 1015.8 968.4 1007.5 974C999.2 979.6 991.2 987.4 982.5 991.5C973.8 995.6 959.6 997.3 955 998.5Z" fill="url(#sg3)"/>
<linearGradient id="lg3" gradientUnits="userSpaceOnUse" x1="958" y1="997" x2="1024" y2="955"><stop offset="0.000" stop-color="#3e26a8"/><stop offset="0.143" stop-color="#4231c5"/><stop offset="0.286" stop-color="#463ddd"/><stop offset="0.429" stop-color="#484bee"/><stop offset="0.571" stop-color="#4659f7"/><stop offset="0.714" stop-color="#4168fd"/><stop offset="0.857" stop-color="#3578fc"/><stop offset="1.000" stop-color="#2f86f6"/></linearGradient>
<clipPath id="lc3"><path d="M940 900L1042 900L1056 960L940 1010Z"/></clipPath>
<path d="M955 998.5C959.6 995 973.8 984.3 982.5 977.7C991.2 971.1 999.2 964.2 1007.5 959C1015.8 953.8 1025.4 949.6 1032.5 946.5C1039.6 943.4 1044.6 943.1 1050 940.2C1055.4 937.3 1059.6 934.2 1065 929C1070.4 923.8 1076.7 916.5 1082.5 909C1088.3 901.5 1093.8 893.6 1100 884C1106.2 874.4 1113.8 862.3 1120 851.5C1126.2 840.7 1132.1 829 1137.5 819C1142.9 809 1148.6 798.8 1152.5 791.5C1156.4 784.2 1158.5 779.2 1161 775C1163.5 770.8 1163.9 768 1167.5 766.5C1171.1 765 1175.8 765.2 1182.5 766C1189.2 766.8 1199.2 768.9 1207.5 771.5C1215.8 774.1 1224.2 777.5 1232.5 781.5C1240.8 785.5 1249.2 789.8 1257.5 795.2C1265.8 800.6 1274.2 807.1 1282.5 814C1290.8 820.9 1299.2 828.6 1307.5 836.5C1315.8 844.4 1326.1 854.4 1332.5 861.5C1338.9 868.6 1341.5 873.2 1346 879C1350.5 884.8 1357 893.6 1359.2 896.5C1355.8 900 1346.1 910.6 1338.5 917.7C1330.9 924.8 1321.8 932.5 1313.5 939C1305.2 945.5 1296.8 951.7 1288.5 956.5C1280.2 961.3 1271.8 965 1263.5 967.7C1255.2 970.4 1246.8 971.9 1238.5 972.7C1230.2 973.5 1221.8 973.4 1213.5 972.7C1205.2 972 1194.9 969.9 1188.5 968.5C1182.1 967.1 1179.2 966 1175 964.5C1170.8 963 1167.7 961.2 1163.5 959.5C1159.3 957.8 1156.4 956.5 1150 954.5C1143.6 952.5 1133.3 949.1 1125 947.5C1116.7 945.9 1108.3 945.4 1100 945C1091.7 944.6 1082.5 944.7 1075 945.4C1067.5 946.1 1062.1 946.9 1055 949C1047.9 951.1 1040.4 953.8 1032.5 958C1024.6 962.2 1015.8 968.4 1007.5 974C999.2 979.6 991.2 987.4 982.5 991.5C973.8 995.6 959.6 997.3 955 998.5Z" fill="url(#lg3)" clip-path="url(#lc3)"/>
<path d="M1045.1 944.1C1047.3 943.2 1053.5 940.3 1058.6 939C1063.7 937.7 1068.5 936.8 1075.6 936.4C1082.7 936 1092.5 935.8 1101 936.4C1109.5 937 1117.9 938.2 1126.4 939.8C1134.9 941.4 1143.4 943.4 1151.9 945.8C1160.4 948.2 1173.1 952.8 1177.3 954.2" fill="none" stroke="#25abe3" stroke-width="3" stroke-linecap="round" opacity="1"/>
<path d="M954.4 998.5L961.2 993.5L969.7 992.5L979 991.6L972.2 995.5L962 998.2Z" fill="#000"/>
<line class="a" x1="912.3" y1="647.7" x2="912.3" y2="1015.2"/><line class="a" x1="912.3" y1="1005.7" x2="1136.7" y2="1046"/><line class="a" x1="1136.7" y1="1046" x2="1411.7" y2="1013.5"/><line class="k" x1="902.8" y1="696.5" x2="912.3" y2="698.5"/><line class="k" x1="902.8" y1="798.5" x2="912.3" y2="800.5"/><line class="k" x1="902.8" y1="900.5" x2="912.3" y2="902.5"/><line class="k" x1="902.8" y1="1003.7" x2="912.3" y2="1005.7"/><line class="k" x1="968.4" y1="1015.8" x2="968.4" y2="1025.1"/><line class="k" x1="1024.5" y1="1025.9" x2="1024.5" y2="1035.2"/><line class="k" x1="1080.6" y1="1035.9" x2="1080.6" y2="1045.2"/><line class="k" x1="1136.7" y1="1046" x2="1136.7" y2="1055.3"/><line class="k" x1="1246.7" y1="1033" x2="1246.7" y2="1042.3"/><line class="k" x1="1356.7" y1="1020" x2="1356.7" y2="1029.3"/>
<text class="t" text-anchor="end" x="891.7" y="707.9">0.8</text><text class="t" text-anchor="end" x="891.7" y="809.9">0.6</text><text class="t" text-anchor="end" x="891.7" y="911.9">0.4</text><text class="t" text-anchor="end" x="891.7" y="1015.1">0.2</text><text class="t" x="875.7" y="1053.5">34</text><text class="t" x="932.2" y="1062.7">32</text><text class="t" x="988.2" y="1074">30</text><text class="t" x="1044" y="1083.2">28</text><text class="t" x="1100.2" y="1094">26</text><text class="t" x="1136.6" y="1094">100</text><text class="t" x="1247.3" y="1080.2">110</text><text class="t" x="1357" y="1067">120</text><text class="t" x="947" y="1104">Y</text><text class="t" x="1300.8" y="1105.2">X</text><text class="t" x="810.2" y="842.7">Z</text>
<linearGradient id="cg3" x1="0" y1="1" x2="0" y2="0"><stop offset="0.0000" stop-color="#3e26a8"/><stop offset="0.0625" stop-color="#4537d5"/><stop offset="0.1250" stop-color="#484df0"/><stop offset="0.1875" stop-color="#4563fd"/><stop offset="0.2500" stop-color="#327cfc"/><stop offset="0.3125" stop-color="#2b91ef"/><stop offset="0.3750" stop-color="#20a5e3"/><stop offset="0.4375" stop-color="#08b5d0"/><stop offset="0.5000" stop-color="#19bfb6"/><stop offset="0.5625" stop-color="#37c897"/><stop offset="0.6250" stop-color="#64cd6f"/><stop offset="0.6875" stop-color="#9dc943"/><stop offset="0.7500" stop-color="#d1bf27"/><stop offset="0.8125" stop-color="#f8ba3d"/><stop offset="0.8750" stop-color="#fccf30"/><stop offset="0.9375" stop-color="#f5e924"/><stop offset="1.0000" stop-color="#f9fb15"/></linearGradient>
<rect x="1412.5" y="655.2" width="13.5" height="358.2" fill="url(#cg3)"/>
<line class="k" x1="1425.5" y1="671" x2="1431.5" y2="671"/>
<text class="t" x="1440" y="686.4">0.6</text>
<line class="k" x1="1425.5" y1="757.8" x2="1431.5" y2="757.8"/>
<text class="t" x="1440" y="772">0.5</text>
<line class="k" x1="1425.5" y1="844.3" x2="1431.5" y2="844.3"/>
<text class="t" x="1440" y="858">0.4</text>
<line class="k" x1="1425.5" y1="931" x2="1431.5" y2="931"/>
<text class="t" x="1440" y="943">0.3</text>
<circle class="b" cx="1176.7" cy="754.5" r="6.2"/>
<circle class="b" cx="1164.2" cy="769" r="6.2"/>
<circle class="b" cx="1268.2" cy="767.7" r="6.2"/>
<circle class="b" cx="1181.2" cy="792.5" r="6.2"/>
<circle class="b" cx="1194.2" cy="799" r="6.2"/>
<circle class="b" cx="1241.2" cy="798.7" r="6.2"/>
<circle class="b" cx="1169.3" cy="827.1" r="6.2"/>
<circle class="b" cx="1218.2" cy="827.1" r="6.2"/>
<circle class="b" cx="1237.8" cy="861.2" r="6.2"/>
<circle class="b" cx="1176.5" cy="875.8" r="6.2"/>
<circle class="b" cx="1246.5" cy="878.3" r="6.2"/>
<circle class="b" cx="1125.3" cy="886" r="6.2"/>
<circle class="b" cx="1109.2" cy="895.2" r="6.2"/>
<circle class="b" cx="1100.7" cy="906.5" r="6.2"/>
<circle class="b" cx="1088.2" cy="924" r="6.2"/>
<circle class="b" cx="1226.4" cy="917.5" r="6.2"/>
<circle class="b" cx="1247.5" cy="916.5" r="6.2"/>
<circle class="b" cx="1254.5" cy="917.7" r="6.2"/>
<circle class="b" cx="1040.7" cy="935.2" r="6.2"/>
<circle class="b" cx="1085" cy="952.7" r="6.2"/>
<circle class="b" cx="1095.7" cy="959.7" r="6.2"/>
<circle class="b" cx="1086.2" cy="967.7" r="6.2"/>
<circle class="b" cx="1068.7" cy="967.7" r="6.2"/>
<circle class="b" cx="1073.2" cy="973.2" r="6.2"/>
<circle class="b" cx="1070" cy="981" r="6.2"/>
<circle class="b" cx="1130.5" cy="959.5" r="6.2"/>
<circle class="b" cx="1252.4" cy="961" r="6.2"/>
<path class="b" d="M1201.2 922.7A6.2 6.2 0 0 0 1188.8 922.7Z"/>
<path class="b" d="M1174.7 927A6.2 6.2 0 0 0 1164.2 928.9Z"/>
<path class="b" d="M1155.9 910.5A6.2 6.2 0 0 0 1147.6 913.5Z"/>
<path class="b" d="M1263.9 903.5A6.2 6.2 0 0 0 1255.6 906.5Z"/>
<circle class="r" cx="1047.5" cy="856" r="6"/>
<circle class="r" cx="1055.7" cy="983.5" r="6"/>
<circle class="r" cx="1115.5" cy="966" r="6"/>
<circle class="r" cx="1272.4" cy="980.9" r="6"/>
<circle class="r" cx="1274.9" cy="967.7" r="6"/>
<circle class="r" cx="1225.7" cy="642.7" r="6"/>
<circle class="r" cx="1213" cy="727" r="6"/>
<circle class="r" cx="1202" cy="727.7" r="6"/>
<line class="l" x1="1051.2" y1="850.2" x2="1065.5" y2="840.2"/>
<line class="l" x1="1033.7" y1="997.2" x2="1048.7" y2="987.7"/>
<line class="l" x1="1120" y1="972.7" x2="1133.2" y2="980.2"/>
<line class="l" x1="1251" y1="991" x2="1265.8" y2="985.8"/>
<line class="l" x1="1283.3" y1="968.7" x2="1298" y2="971.3"/>
<line class="l" x1="1228" y1="652" x2="1241.2" y2="660.2"/>
<line class="l" x1="1221.7" y1="729.5" x2="1237" y2="724.7"/>
<line class="l" x1="1180" y1="720.2" x2="1194.5" y2="727.7"/>
<text class="c" x="1032" y="824.4">Chengdu</text>
<text class="c" x="1003.2" y="1012.7">Yaan</text>
<text class="c" x="1111.5" y="1001.5">Yibin</text>
<text class="c" x="1214" y="1006">Jian</text>
<text class="c" x="1299.2" y="978.5">Fuzhou</text>
<text class="c" x="1244.5" y="669.5">Shanghai</text>
<text class="c" x="1243.2" y="727">Suzhou</text>
<text class="c" x="1125.7" y="714">Wuxi</text>
<text class="h" x="800.5" y="609" style="letter-spacing:1.75px">d.2019</text>
<rect class="f" x="778.3" y="574.5" width="746.2" height="543"/></g>
</svg>
</body></html>
